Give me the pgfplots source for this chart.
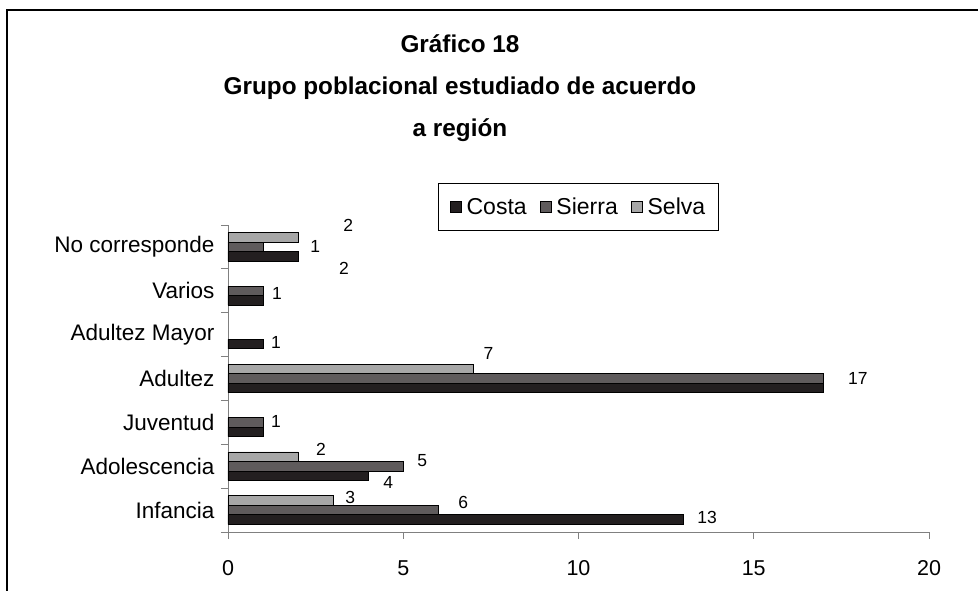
\documentclass[border=0pt]{standalone}
\usepackage{fontspec}
\setmainfont{Liberation Sans}
\usepackage{pgfplots}
\pgfplotsset{compat=1.18}
\definecolor{costa}{HTML}{231F20}
\definecolor{sierra}{HTML}{5F5B5C}
\definecolor{selva}{HTML}{A7A7A7}
\definecolor{axisgray}{HTML}{808080}
\begin{document}
\begin{tikzpicture}[x=1pt,y=1pt]
\useasboundingbox (0,0) rectangle (978,591);
\draw[line width=2pt,black] (7,0) -- (7,581) -- (978,581);
\node[anchor=base,font=\fontsize{24.3}{28}\selectfont\bfseries] at (460,538) {Gráfico 18};
\node[anchor=base,font=\fontsize{24.3}{28}\selectfont\bfseries] at (460,496) {Grupo poblacional estudiado de acuerdo};
\node[anchor=base,font=\fontsize{24.3}{28}\selectfont\bfseries] at (460,454) {a región};
\begin{axis}[
  at={(228pt,59pt)}, anchor=south west,
  scale only axis, width=701pt, height=307pt,
  xmin=0, xmax=20, ymin=-0.5, ymax=6.5,
  xbar, bar width=9.5pt,
  axis x line*=bottom, axis y line*=left,
  axis line style={axisgray, line width=0.8pt, -},
  tick align=outside,
  tick style={axisgray, line width=0.8pt},
  major tick length=7pt,
  xtick={0,5,10,15,20},
  ytick={-0.5,0.5,...,6.5},
  yticklabels={},
  extra y ticks={0,1,2,3,4,5,6},
  extra y tick labels={Infancia, Adolescencia, Juventud, Adultez, Adultez Mayor, Varios, No corresponde},
  extra y tick style={major tick length=0pt},
  /pgf/number format/assume math mode=true,
  xticklabel style={font=\fontsize{21.5}{25}\selectfont, yshift=-18pt},
  yticklabel style={font=\fontsize{22.5}{26}\selectfont, xshift=-10pt},
  legend style={at={(0.5,1.059)}, anchor=center, draw=black, line width=0.8pt,
    font=\fontsize{23}{26}\selectfont, legend columns=3,
    inner xsep=11pt, inner ysep=12pt,
    /tikz/every odd column/.append style={column sep=3pt},
    /tikz/every even column/.append style={column sep=11pt}},
  legend image code/.code={\draw[#1] (0pt,-5.5pt) rectangle (11pt,5.5pt);},
  clip=false,
]
\addplot[fill=costa, draw=black, line width=0.8pt, bar shift=-9.5pt]
  coordinates {(13,0) (4,1) (1,2) (17,3) (1,4) (1,5) (2,6)};
\addplot[fill=sierra, draw=black, line width=0.8pt, bar shift=0pt]
  coordinates {(6,0) (5,1) (1,2) (17,3) (1,5) (1,6)};
\addplot[fill=selva, draw=black, line width=0.8pt, bar shift=9.5pt]
  coordinates {(3,0) (2,1) (7,3) (2,6)};
\legend{Costa, Sierra, Selva}
\begin{scope}[every node/.style={font=\fontsize{17.5}{20}\selectfont}]
\node at (axis cs:3.43,6.48) {2};
\node at (axis cs:2.49,6.00) {1};
\node at (axis cs:3.31,5.52) {2};
\node at (axis cs:1.40,4.93) {1};
\node at (axis cs:1.37,3.81) {1};
\node at (axis cs:7.43,3.56) {7};
\node at (axis cs:17.97,3.01) {17};
\node at (axis cs:1.37,2.01) {1};
\node at (axis cs:2.65,1.39) {2};
\node at (axis cs:5.54,1.12) {5};
\node at (axis cs:4.57,0.64) {4};
\node at (axis cs:3.49,0.28) {3};
\node at (axis cs:6.71,0.18) {6};
\node at (axis cs:13.67,-0.16) {13};
\end{scope}
\end{axis}
\end{tikzpicture}
\end{document}
